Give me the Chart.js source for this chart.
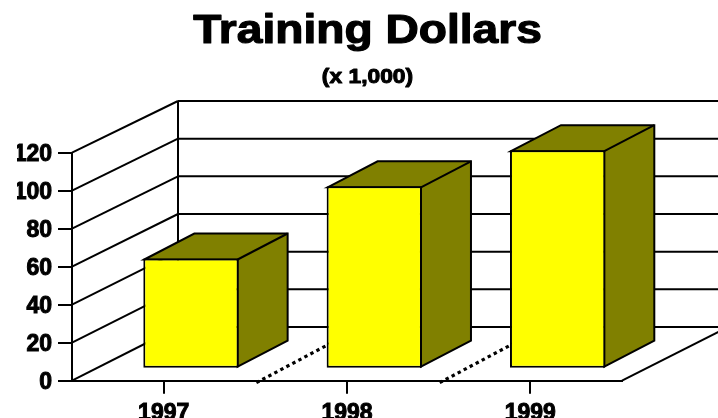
<!DOCTYPE html>
<html>
<head>
<meta charset="utf-8">
<style>html,body{margin:0;padding:0;background:#fff}canvas{display:block}</style>
<script src="https://cdn.jsdelivr.net/npm/chart.js@4"></script>
</head>
<body>
<canvas id="c" width="718" height="418"></canvas>
<script>
const categories = ['1997', '1998', '1999'];
const dollars = [58, 96, 115];
const titleText = 'Training Dollars';
const subtitleText = '(x 1,000)';
const yMax = 120, yStep = 20;

const FONT = '"Liberation Sans", Arial, sans-serif';
const wall = {dx: 106, dy: -53.7, shrink: 226 / 228};
const bar3d = {dx: 50, dy: -26, shiftX: 27.3, shiftY: -12};

// Titles keep the library's layout; their text is widened and thickened as in the reference.
function widen(chart, block, k, w) {
  if (!block || block._widened) return;
  block._widened = true;
  const draw = block.draw;
  block.draw = function () {
    const {ctx} = chart;
    const cx = (block.left + block.right) / 2;
    ctx.save();
    ctx.translate(cx, 0);
    ctx.scale(k, 1);
    ctx.translate(-cx, 0);
    draw.call(block);
    const o = block.options, size = o.font.size;
    ctx.font = 'bold ' + size + 'px ' + FONT;
    ctx.textAlign = 'center';
    ctx.textBaseline = 'middle';
    ctx.strokeStyle = '#000';
    ctx.lineJoin = 'round';
    ctx.lineWidth = w;
    ctx.strokeText(o.text, cx, block.top + o.padding.top + size / 2);
    ctx.restore();
  };
}

const threeD = {
  id: 'threeD',
  afterLayout(chart) {
    widen(chart, chart.boxes.find(b => b.options && b.options.text === titleText), 1.125, 1.2);
    widen(chart, chart.boxes.find(b => b.options && b.options.text === subtitleText), 1.14, 1);
  },
  beforeDatasetsDraw(chart) {
    const {ctx, chartArea: a, scales: {x, y}} = chart;
    const backY = v => a.bottom + wall.dy - (a.bottom - y.getPixelForValue(v)) * wall.shrink;
    ctx.save();
    ctx.strokeStyle = '#000';
    ctx.lineCap = 'butt';
    ctx.lineWidth = 2;
    const bx = a.left + wall.dx;
    const seg = (x1, y1, x2, y2) => { ctx.beginPath(); ctx.moveTo(x1, y1); ctx.lineTo(x2, y2); ctx.stroke(); };
    seg(bx, backY(yMax), bx, backY(0));
    for (let v = 0; v <= yMax; v += yStep) {
      seg(bx, backY(v), a.right + wall.dx, backY(v));
      seg(a.left, y.getPixelForValue(v), bx, backY(v));
    }
    seg(a.right, a.bottom, a.right + wall.dx, backY(0));
    ctx.lineWidth = 3.2;
    ctx.setLineDash([3.4, 3.4]);
    const step = (a.right - a.left) / categories.length;
    for (let i = 1; i < categories.length; i++) {
      const sx = x.getPixelForValue(i) - step / 2;
      seg(sx + 1, a.bottom + 2, sx + wall.dx, backY(0));
    }
    ctx.setLineDash([]);
    ctx.fillStyle = '#808000';
    ctx.lineWidth = 2;
    ctx.lineJoin = 'miter';
    chart.getDatasetMeta(0).data.forEach(el => {
      const l = el.x - el.width / 2 + bar3d.shiftX + 1, r = el.x + el.width / 2 + bar3d.shiftX - 1;
      const t = el.y + bar3d.shiftY + 1, b = el.base + bar3d.shiftY - 1;
      const {dx, dy} = bar3d;
      ctx.beginPath();
      ctx.moveTo(l, t); ctx.lineTo(l + dx, t + dy); ctx.lineTo(r + dx, t + dy);
      ctx.lineTo(r + dx, b + dy); ctx.lineTo(r, b); ctx.lineTo(r, t); ctx.closePath();
      ctx.fill(); ctx.stroke();
      seg(r, t, r + dx, t + dy);
    });
    ctx.restore();
    // the front faces are drawn by Chart.js, moved to their depth on the floor
    ctx.save();
    ctx.translate(bar3d.shiftX, bar3d.shiftY);
  },
  afterDatasetsDraw(chart) {
    chart.ctx.restore();
  }
};

new Chart(document.getElementById('c'), {
  type: 'bar',
  data: {
    labels: categories,
    datasets: [{
      data: dollars,
      backgroundColor: '#ffff00',
      borderColor: '#000',
      borderWidth: 2,
      borderSkipped: false,
      barPercentage: 0.52,
      categoryPercentage: 1
    }]
  },
  plugins: [threeD],
  options: {
    responsive: false,
    animation: false,
    layout: {padding: {left: 17}},
    plugins: {
      legend: {display: false},
      tooltip: {enabled: false},
      title: {display: true, text: titleText, color: '#000',
        font: {family: FONT, size: 41, weight: 'bold', lineHeight: 1},
        padding: {top: 11, bottom: 0}},
      subtitle: {display: true, text: subtitleText, color: '#000',
        font: {family: FONT, size: 20, weight: 'bold', lineHeight: 1},
        padding: {top: 15, bottom: 65.7}}
    },
    scales: {
      x: {
        afterFit: s => { s.height = 37.3; },
        grid: {offset: false, drawOnChartArea: false, drawTicks: true, tickLength: 13, color: '#000', lineWidth: 2},
        border: {display: true, color: '#000', width: 2},
        ticks: {color: '#000', font: {family: FONT, size: 23, weight: 'bold', lineHeight: 1},
          padding: 8, maxRotation: 0, autoSkip: false, textStrokeColor: '#000', textStrokeWidth: 1}
      },
      y: {
        min: 0, max: yMax,
        afterFit: s => { s.width = 55; },
        grid: {drawOnChartArea: false, drawTicks: true, tickLength: 14, color: '#000', lineWidth: 2},
        border: {display: true, color: '#000', width: 2},
        ticks: {stepSize: yStep, color: '#000', font: {family: FONT, size: 23, weight: 'bold', lineHeight: 1},
          padding: 6, labelOffset: 2, textStrokeColor: '#000', textStrokeWidth: 1}
      },
      // empty right-hand band: leaves room for the depth of the floor and walls
      yRoom: {
        type: 'linear', position: 'right',
        afterFit: s => { s.width = 96; },
        grid: {display: false}, border: {display: false}, ticks: {display: false}
      }
    }
  }
});
</script>
</body>
</html>
